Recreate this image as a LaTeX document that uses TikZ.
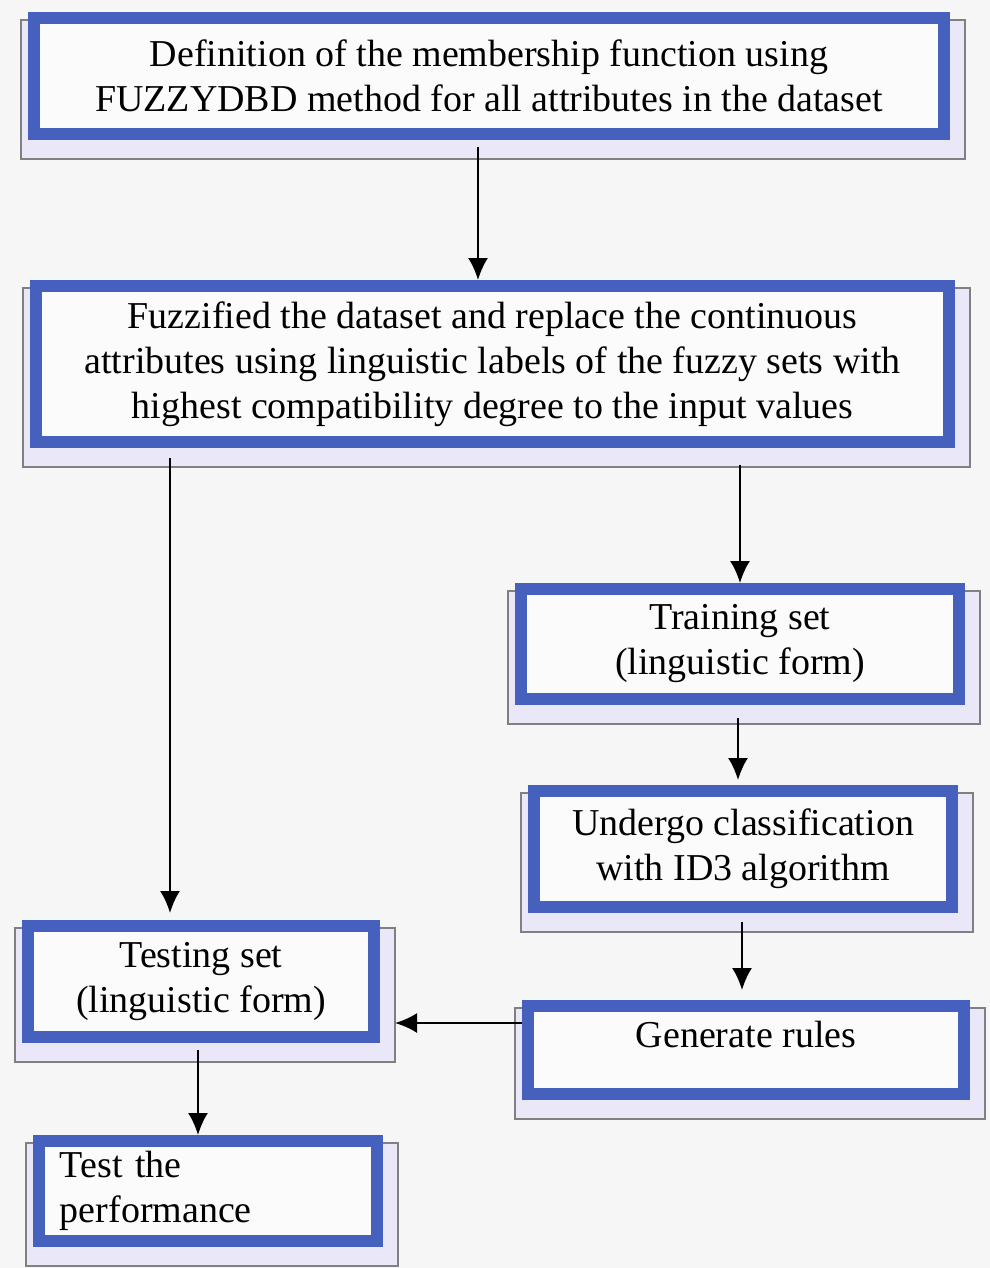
\documentclass[tikz,border=0pt]{standalone}
\usepackage{fontspec}
\setmainfont{Liberation Serif}
\usepackage{tikz}
\usetikzlibrary{arrows.meta}

\definecolor{fondgris}{RGB}{246,246,246}
\definecolor{bleucadre}{RGB}{70,96,190}
\definecolor{ombre}{RGB}{234,231,248}

\pgfdeclarelayer{fond}
\pgfsetlayers{fond,main}

\tikzset{
  boite/.style={rectangle, draw=bleucadre, line width=8.5pt, fill=white!97!gray,
    align=center, inner sep=0.2cm,
    font=\fontsize{27pt}{32pt}\selectfont},
  ombrage/.style={fill=ombre, draw=gray, line width=1.4pt},
  fleche/.style={-{Latex[length=0.55cm,width=0.5cm]}, line width=1.6pt}
}

\begin{document}
\begin{tikzpicture}[x=0.025cm, y=-0.025cm]
            \useasboundingbox (0,0) rectangle (990,1268);
            % Les boites
            \node[boite, minimum width=22.75cm, minimum height=2.9cm] (def) at (489,76)
              {Definition of the membership function using\\FUZZYDBD method for all attributes in the dataset};
            \node[boite, minimum width=22.825cm, minimum height=3.9cm] (fuz) at (492.5,364)
              {Fuzzified the dataset and replace the continuous\\attributes using linguistic labels of the fuzzy sets with\\highest compatibility degree to the input values};
            \node[boite, minimum width=10.95cm, minimum height=2.75cm] (train) at (740,644)
              {Training set\\(linguistic form)};
            \node[boite, minimum width=10.45cm, minimum height=2.9cm] (algo) at (743,849)
              {Undergo classification\\with ID3 algorithm};
            \node[boite, minimum width=10.9cm, minimum height=2.2cm, text depth=0.8cm] (regles) at (746,1050)
              {Generate rules};
            \node[boite, minimum width=8.65cm, minimum height=2.775cm] (test) at (201,981.5)
              {Testing set\\(linguistic form)};
            \node[boite, minimum width=8.45cm, minimum height=2.5cm, align=left,
              text width=7.4cm, inner xsep=0.525cm] (perf) at (208,1191)
              {Test the\\performance};
            % Le fond et les ombres
            \begin{pgfonlayer}{fond}
              \fill[fondgris] (0,0) rectangle (990,1268);
              \foreach \b in {def,fuz,train,algo,regles,test,perf}
                \draw[ombrage] ([shift={(-7,8)}]\b.north west) rectangle ([shift={(15,19)}]\b.south east);
            \end{pgfonlayer}
            % Les fleches
            \draw[fleche, shorten <=0.175cm] (def.south -| 478,0) -- (fuz.north -| 478,0);
            \draw[fleche, shorten <=0.25cm, shorten >=0.175cm] (fuz.south -| 170,0) -- (test.north -| 170,0);
            \draw[fleche, shorten <=0.425cm] (fuz.south -| 740,0) -- (train.north -| 740,0);
            \draw[fleche, shorten <=0.325cm, shorten >=0.125cm] (train.south -| 738,0) -- (algo.north -| 738,0);
            \draw[fleche, shorten <=0.225cm, shorten >=0.25cm] (algo.south -| 742,0) -- (regles.north -| 742,0);
            \draw[fleche, shorten >=0.375cm] (regles.west |- 0,1023) -- (test.east |- 0,1023);
            \draw[fleche, shorten <=0.175cm] (test.south -| 198,0) -- (perf.north -| 198,0);
        \end{tikzpicture}
\end{document}
